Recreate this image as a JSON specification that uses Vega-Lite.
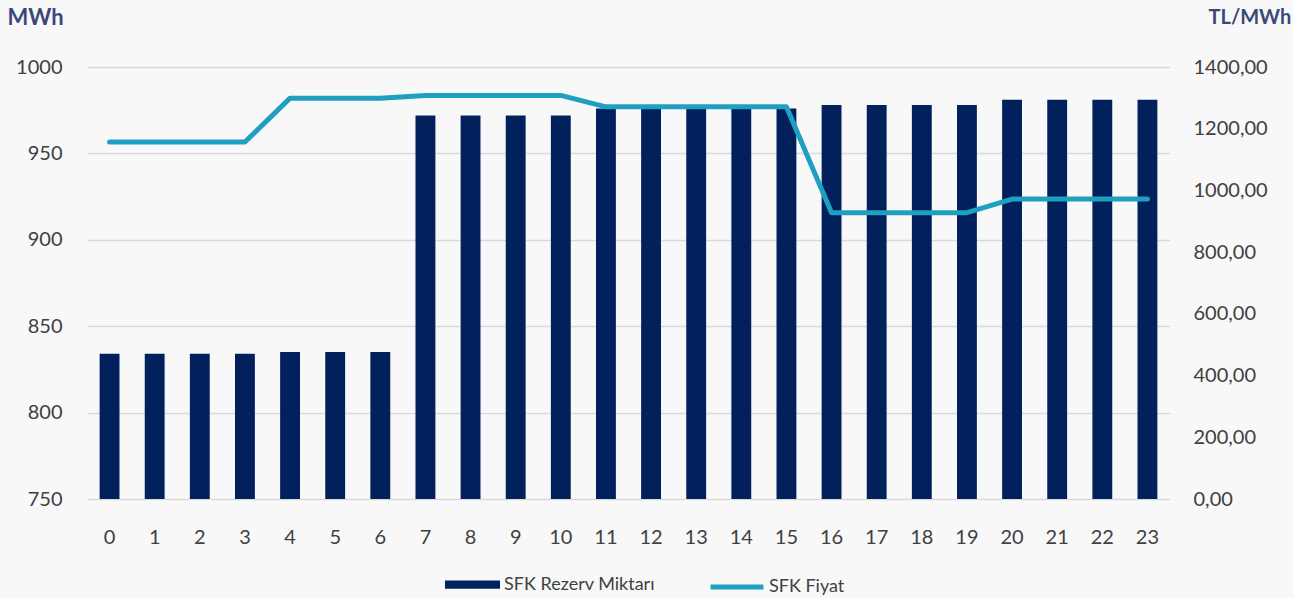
{
  "$schema": "https://vega.github.io/schema/vega-lite/v6.json",
  "width": 1083,
  "height": 432,
  "autosize": {"type": "none"},
  "padding": {"left": 87, "top": 67, "right": 123, "bottom": 99},
  "background": "#f8f8f9",
  "config": {
    "view": {"stroke": null},
    "font": "Lato",
    "axis": {"labelFont": "Lato", "labelFontSize": 20, "labelColor": "#404040", "domain": false, "ticks": false, "titleFont": "Lato"},
    "legend": {"labelFont": "Lato", "labelFontSize": 18, "labelColor": "#404040", "padding": 0}
  },
  "data": {
    "values": [
      {"hour": 0, "mwh": 834, "price": 1157},
      {"hour": 1, "mwh": 834, "price": 1157},
      {"hour": 2, "mwh": 834, "price": 1157},
      {"hour": 3, "mwh": 834, "price": 1157},
      {"hour": 4, "mwh": 835, "price": 1299},
      {"hour": 5, "mwh": 835, "price": 1299},
      {"hour": 6, "mwh": 835, "price": 1299},
      {"hour": 7, "mwh": 972, "price": 1308},
      {"hour": 8, "mwh": 972, "price": 1308},
      {"hour": 9, "mwh": 972, "price": 1308},
      {"hour": 10, "mwh": 972, "price": 1308},
      {"hour": 11, "mwh": 976, "price": 1271},
      {"hour": 12, "mwh": 976, "price": 1271},
      {"hour": 13, "mwh": 976, "price": 1271},
      {"hour": 14, "mwh": 976, "price": 1271},
      {"hour": 15, "mwh": 976, "price": 1271},
      {"hour": 16, "mwh": 978, "price": 928},
      {"hour": 17, "mwh": 978, "price": 928},
      {"hour": 18, "mwh": 978, "price": 928},
      {"hour": 19, "mwh": 978, "price": 928},
      {"hour": 20, "mwh": 981, "price": 972},
      {"hour": 21, "mwh": 981, "price": 972},
      {"hour": 22, "mwh": 981, "price": 972},
      {"hour": 23, "mwh": 981, "price": 972}
    ]
  },
  "encoding": {
    "x": {
      "field": "hour", "type": "ordinal",
      "scale": {"paddingInner": 0.56, "paddingOuter": 0.28},
      "axis": {"title": null, "labelAngle": 0, "labelPadding": 28, "grid": false}
    }
  },
  "layer": [
    {
      "mark": {"type": "bar", "clip": true},
      "encoding": {
        "y": {
          "field": "mwh", "type": "quantitative",
          "scale": {"domain": [750, 1000], "zero": false, "nice": false},
          "axis": {
            "values": [750, 800, 850, 900, 950, 1000],
            "format": "d",
            "grid": true, "gridColor": "#d9d9d9", "gridWidth": 1.5,
            "labelPadding": 25,
            "title": "MWh", "titleAngle": 0, "titleAlign": "left", "titleBaseline": "middle",
            "titleX": -80, "titleY": -50, "titleFontSize": 22, "titleFontWeight": "bold", "titleColor": "#3b4779"
          }
        },
        "y2": {"datum": 750},
        "color": {
          "datum": "SFK Rezerv Miktarı",
          "scale": {"range": ["#01205c"]},
          "legend": {
            "title": null, "orient": "none", "legendX": 358, "legendY": 490,
            "symbolType": "M-1,-0.15L1,-0.15L1,0.15L-1,0.15Z", "symbolSize": 3025,
            "symbolStrokeWidth": 0, "labelOffset": 4
          }
        }
      }
    },
    {
      "mark": {"type": "line", "strokeWidth": 5, "strokeJoin": "round", "strokeCap": "round"},
      "encoding": {
        "y": {
          "field": "price", "type": "quantitative",
          "scale": {"domain": [0, 1400], "nice": false},
          "axis": {
            "orient": "right",
            "values": [0, 200, 400, 600, 800, 1000, 1200, 1400],
            "grid": false, "labelPadding": 23,
            "labelExpr": "replace(format(datum.value, '.2f'), '.', ',')",
            "title": "TL/MWh", "titleAngle": 0, "titleAlign": "left", "titleBaseline": "middle",
            "titleX": 38, "titleY": -50, "titleFontSize": 20, "titleFontWeight": "bold", "titleColor": "#3b4779"
          }
        },
        "stroke": {
          "datum": "SFK Fiyat",
          "scale": {"range": ["#20a0c1"]},
          "legend": {
            "title": null, "orient": "none", "legendX": 621, "legendY": 491,
            "symbolType": "stroke", "symbolSize": 2800, "symbolStrokeWidth": 5, "labelOffset": 3
          }
        }
      }
    }
  ],
  "resolve": {"scale": {"y": "independent"}}
}
